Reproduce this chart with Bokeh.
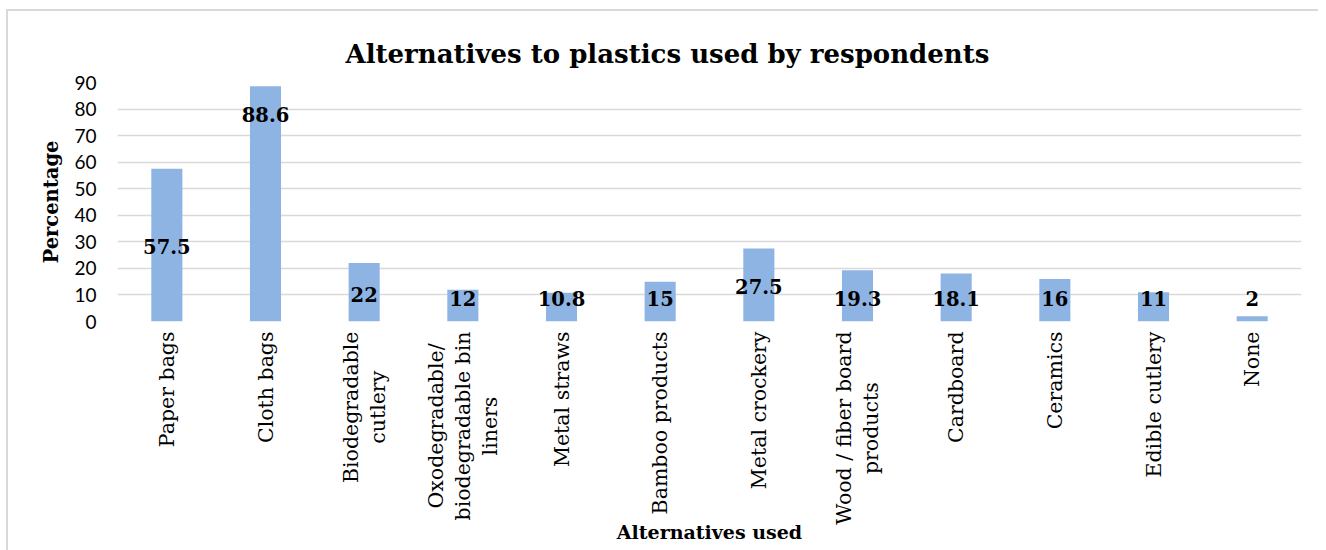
from math import pi

from bokeh.core.properties import value
from bokeh.embed import file_html
from bokeh.layouts import column
from bokeh.models import ColumnDataSource, FactorRange, Range1d, SingleIntervalTicker
from bokeh.plotting import figure
from bokeh.resources import INLINE

# Alternatives to plastics and share of respondents using each (%)
categories = [
    "Paper bags",
    "Cloth bags",
    "Biodegradable\ncutlery",
    "Oxodegradable/\nbiodegradable bin\nliners",
    "Metal straws",
    "Bamboo products",
    "Metal crockery",
    "Wood / fiber board\nproducts",
    "Cardboard",
    "Ceramics",
    "Edible cutlery",
    "None",
]
percentages = [57.5, 88.6, 22, 12, 10.8, 15, 27.5, 19.3, 18.1, 16, 11, 2]
value_labels = ["57.5", "88.6", "22", "12", "10.8", "15", "27.5", "19.3", "18.1", "16", "11", "2"]

# height (in axis units) at which each value label sits
label_heights = [28.2, 77.9, 10.3, 8.8, 8.8, 8.8, 13.0, 8.8, 8.8, 8.8, 8.8, 8.8]

x_title = "Alternatives used"
y_title = "Percentage"
chart_title = "Alternatives to plastics used by respondents"

SERIF = "DejaVu Serif"
SANS = "Lato"
GRID = "#D9D9D9"
BAR = "#8EB4E3"
FRAME_W = 1182
LABEL_BAND_H = 219

source = ColumnDataSource(dict(
    cat=categories,
    pct=percentages,
    lab=value_labels,
    lab_y=label_heights,
))

# ---- main bar chart -------------------------------------------------------
p = figure(
    x_range=FactorRange(*categories, range_padding=0),
    y_range=Range1d(0, 90),
    frame_width=FRAME_W,
    frame_height=237,
    min_border_left=109,
    min_border_right=19,
    min_border_top=71,
    min_border_bottom=12,
    output_backend="svg",
    toolbar_location=None,
    title=chart_title,
)

# light frame around the whole chart area
p.styles = {
    "margin-left": "6px",
    "margin-top": "9px",
    "border-left": "2px solid #D9D9D9",
    "border-top": "2px solid #D9D9D9",
}

p.title.align = "left"
p.title.text_font = SERIF
p.title.text_font_style = "bold"
p.title.text_font_size = "26px"
p.title.text_color = "#000000"
p.title.standoff = 27
p.title.offset = 228

p.vbar(x="cat", top="pct", width=0.315, source=source,
       fill_color=BAR, line_color=None)

p.text(x="cat", y="lab_y", text="lab", source=source,
       text_align="center", text_baseline="middle",
       text_font=value(SERIF), text_font_style="bold",
       text_font_size="19.5px", text_color="#000000")

p.outline_line_color = None
p.xgrid.grid_line_color = None
p.ygrid.grid_line_color = GRID
p.ygrid.grid_line_width = 1.5
p.xaxis.visible = False

p.yaxis.ticker = SingleIntervalTicker(interval=10)
p.yaxis.axis_line_color = None
p.yaxis.major_tick_line_color = None
p.yaxis.major_tick_out = 0
p.yaxis.minor_tick_line_color = None
p.yaxis.major_label_text_font = SANS
p.yaxis.major_label_text_font_size = "19px"
p.yaxis.major_label_text_color = "#000000"
p.yaxis.major_label_standoff = 17
p.yaxis.axis_label = y_title
p.yaxis.axis_label_text_font = SERIF
p.yaxis.axis_label_text_font_style = "bold"
p.yaxis.axis_label_text_font_size = "19.5px"
p.yaxis.axis_label_text_color = "#000000"
p.yaxis.axis_label_standoff = 8

# ---- category labels band underneath, sharing the x range ------------------
cat_source = ColumnDataSource(dict(cat=categories, y=[0] * len(categories)))

band = figure(
    x_range=p.x_range,
    y_range=Range1d(-LABEL_BAND_H, 0),
    frame_width=FRAME_W,
    frame_height=LABEL_BAND_H,
    min_border_left=109,
    min_border_right=19,
    min_border_top=0,
    min_border_bottom=0,
    output_backend="svg",
    toolbar_location=None,
)
band.styles = {"margin-left": "6px", "border-left": "2px solid #D9D9D9"}
band.outline_line_color = None
band.xaxis.visible = False
band.yaxis.visible = False
band.grid.visible = False

band.text(x="cat", y="y", text="cat", source=cat_source,
          angle=pi / 2, anchor="center_right", y_offset=0,
          text_align="center", text_line_height=1.13,
          text_font=value(SERIF), text_font_size="20.5px", text_color="#000000")

band.text(x=[len(categories) / 2], y=[-LABEL_BAND_H + 19], text=[x_title],
          anchor="center",
          text_font=value(SERIF), text_font_style="bold",
          text_font_size="19px", text_color="#000000")

layout = column(p, band, spacing=0)

open("out.html", "w").write(file_html(layout, INLINE))
